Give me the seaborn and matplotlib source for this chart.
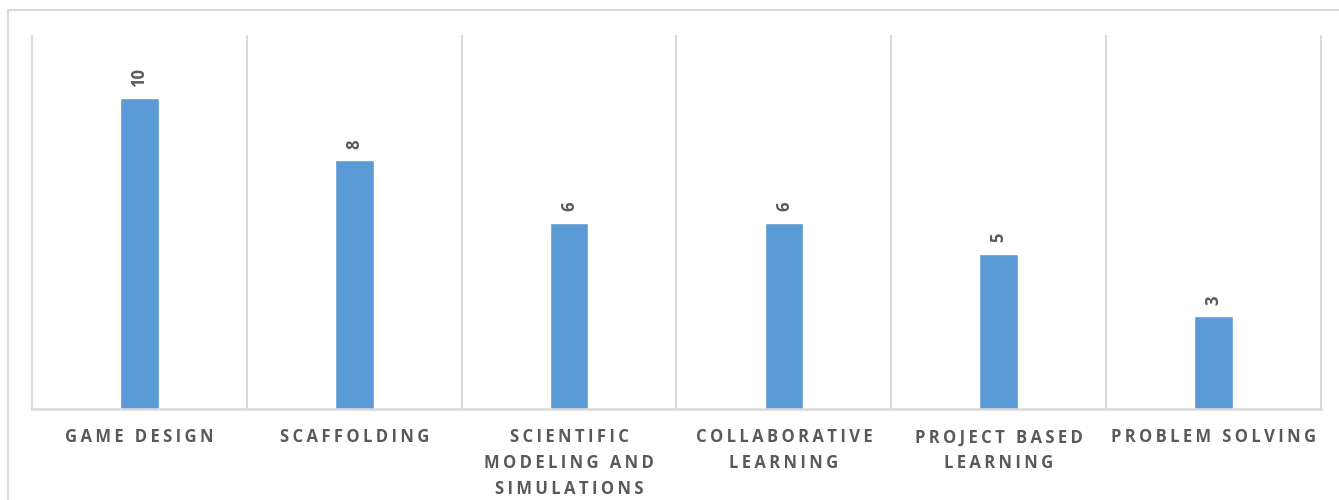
import matplotlib
matplotlib.use("Agg")
import matplotlib.pyplot as plt
import seaborn as sns
import pandas as pd
from matplotlib.patches import Rectangle

# Chart data
categories = [
    "GAME DESIGN",
    "SCAFFOLDING",
    "SCIENTIFIC\nMODELING AND\nSIMULATIONS",
    "COLLABORATIVE\nLEARNING",
    "PROJECT BASED\nLEARNING",
    "PROBLEM SOLVING",
]
counts = [10, 8, 6, 6, 5, 3]

BAR_COLOR = "#5B9BD5"
GRID_COLOR = "#D9D9D9"
TEXT_COLOR = "#595959"

sns.set_theme(style="white")
plt.rcParams["font.family"] = ["Open Sans", "DejaVu Sans"]


def spaced(label):
    # widen tracking by placing thin spaces between letters
    return "\n".join("\u2009".join(line) for line in label.split("\n"))


df = pd.DataFrame({"category": categories, "count": counts})

fig = plt.figure(figsize=(13.39, 5.0), dpi=100)
ax = fig.add_axes([32 / 1339, 1 - 409 / 500, (1321 - 32) / 1339, (409 - 36) / 500])

sns.barplot(data=df, x="category", y="count", color=BAR_COLOR, width=0.18,
            saturation=1, ax=ax)

ax.set_xlim(-0.5, len(categories) - 0.5)
ax.set_ylim(0, 12)
ax.set_yticks([])
ax.set_xlabel("")
ax.set_ylabel("")

# category separators
for b in range(len(categories) + 1):
    ax.axvline(b - 0.5, color=GRID_COLOR, lw=1.5, zorder=0, clip_on=False)

for side in ["left", "right", "top"]:
    ax.spines[side].set_visible(False)
ax.spines["bottom"].set_color(GRID_COLOR)
ax.spines["bottom"].set_linewidth(1.8)

ax.set_xticks(range(len(categories)))
ax.set_xticklabels([spaced(c) for c in categories], fontsize=12, fontweight="bold",
                   color=TEXT_COLOR, linespacing=1.56, va="top")
ax.tick_params(axis="x", length=0, pad=14)

for container in ax.containers:
    ax.bar_label(container, labels=[str(v) for v in counts], rotation=90,
                 padding=8, fontsize=12, fontweight="bold", color=TEXT_COLOR)

# outer chart frame
fig.patches.append(Rectangle((8 / 1339, -0.05), 1.1, 1 - 9.5 / 500 + 0.05,
                             transform=fig.transFigure, fill=False,
                             edgecolor=GRID_COLOR, lw=1.5))

fig.savefig("out.png", dpi=100)
